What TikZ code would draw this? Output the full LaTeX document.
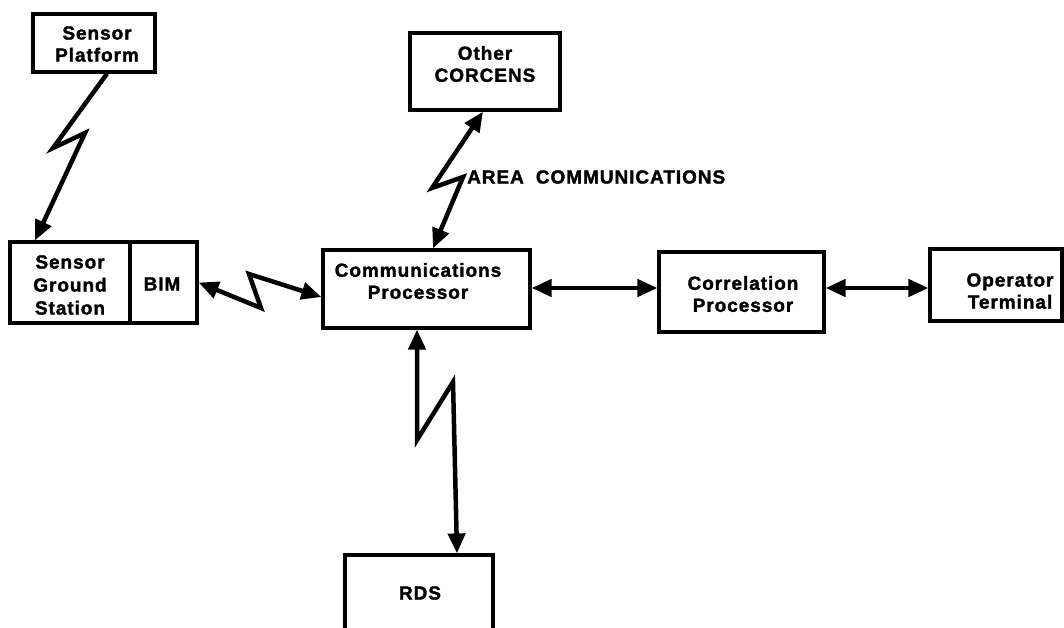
\documentclass[tikz,border=0pt]{standalone}
\usepackage{fontspec}
\setmainfont{Liberation Sans}[LetterSpace=5, BoldFeatures={FakeBold=1.6}]
\usetikzlibrary{arrows.meta,calc}

\tikzset{
  box/.style={draw, line width=3.2pt, inner sep=0pt},
  txt/.style={font=\bfseries\fontsize{19}{22}\selectfont, align=center, inner sep=0pt},
  tip/.tip={Triangle[length=20pt,width=17pt]},
  link/.style={line width=4.5pt, line join=miter, tip-tip},
  linkend/.style={line width=4.5pt, line join=miter, -tip}
}

\begin{document}
\begin{tikzpicture}[x=1pt, y=-1pt]
  \clip (0,0) rectangle (1064,627);
  \fill[white] (0,0) rectangle (1064,627);

  % boxes
  \node[box, minimum width=122pt, minimum height=58pt] (plat) at (94,43) {};
  \node[txt] (platT) at (97,44) {Sensor\\Platform};

  \node[box, minimum width=187pt, minimum height=81pt] (gs) at (103.5,282.5) {};
  \draw[line width=3.2pt] (130,242) -- (130,323);
  \node[txt, font=\bfseries\fontsize{19}{23}\selectfont] (gsT) at (70,285) {Sensor\\Ground\\Station};
  \node[txt] (bim) at (162,284) {BIM};

  \node[box, minimum width=150pt, minimum height=77pt] (corc) at (485,71.5) {};
  \node[txt] (corcT) at (485,64) {Other\\CORCENS};

  \node[box, minimum width=207pt, minimum height=78pt] (cp) at (426.5,289) {};
  \node[txt] (cpT) at (418,281) {Communications\\Processor};

  \node[box, minimum width=165pt, minimum height=80pt] (corr) at (741.5,292) {};
  \node[txt] (corrT) at (743,294) {Correlation\\Processor};

  \node[box, minimum width=132pt, minimum height=72pt] (op) at (996,285) {};
  \node[txt] (opT) at (1010,291) {Operator\\Terminal};

  \node[box, minimum width=148pt, minimum height=90pt] (rds) at (419,600) {};
  \node[txt] (rdsT) at (420,593) {RDS};

  % radio-link bends
  \coordinate (p1) at (53,148);
  \coordinate (p2) at (85,133);
  \coordinate (b1) at (261,308);
  \coordinate (b2) at (249,274);
  \coordinate (a1) at (432,188);
  \coordinate (a2) at (463,177);
  \coordinate (r1) at (417,440);
  \coordinate (r2) at (453,382);

  % connectors
  \draw[linkend] ([xshift=13pt]plat.south) -- (p1) -- (p2) -- ([xshift=-68.5pt]gs.north);
  \draw[link] (gs.east) -- (b1) -- (b2) -- ([yshift=-8pt]cp.west);
  \draw[link] ([xshift=-2pt]corc.south) -- (a1) -- (a2) -- ([xshift=6.5pt]cp.north);
  \draw[link] ([xshift=-9.5pt]cp.south) -- (r1) -- (r2) -- ([xshift=38pt]rds.north);
  \draw[link] ([yshift=1pt]cp.east) -- ([yshift=1pt]cp.east -| corr.west);
  \draw[link] ([yshift=4pt]corr.east) -- ([yshift=4pt]corr.east -| op.west);

  \node[txt, anchor=west] (area) at (467,177) {AREA\hspace{12pt}COMMUNICATIONS};
\end{tikzpicture}
\end{document}
